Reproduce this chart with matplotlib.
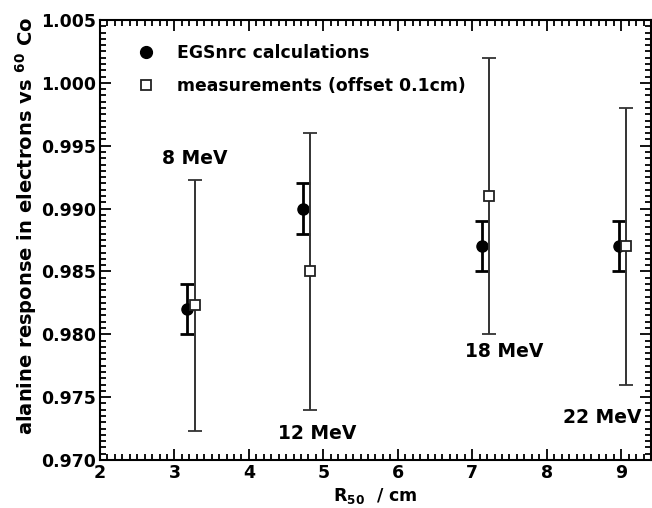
import matplotlib
matplotlib.use("Agg")
import matplotlib.pyplot as plt
from matplotlib.ticker import MultipleLocator, FormatStrFormatter
from matplotlib.lines import Line2D

plt.rcParams['font.family'] = ['DejaVu Sans']
plt.rcParams['font.weight'] = 'bold'
plt.rcParams['mathtext.fontset'] = 'custom'
plt.rcParams['mathtext.rm'] = 'DejaVu Sans:bold'
plt.rcParams['mathtext.it'] = 'DejaVu Sans:bold'
plt.rcParams['mathtext.bf'] = 'DejaVu Sans:bold'

# EGSnrc calculations
calc_x = [3.17, 4.72, 7.13, 8.97]
calc_y = [0.982, 0.990, 0.987, 0.987]
calc_err = [0.002, 0.002, 0.002, 0.002]

# measurements (offset 0.1 cm)
meas_x = [3.27, 4.82, 7.23, 9.07]
meas_y = [0.9823, 0.985, 0.991, 0.987]
meas_err = [0.010, 0.011, 0.011, 0.011]

energy_labels = ["8 MeV", "12 MeV", "18 MeV", "22 MeV"]
label_x = [3.27, 4.92, 7.43, 8.74]
label_y = [0.9940, 0.9721, 0.9786, 0.9734]

fig = plt.figure(figsize=(6.52, 5.08), dpi=100)
ax = fig.add_axes([0.1534, 0.0945, 0.8450, 0.8661])

ax.errorbar(calc_x, calc_y, yerr=calc_err, fmt='o', color='black',
            ms=8, elinewidth=2.0, capsize=5, capthick=2.0, zorder=2)
ax.errorbar(meas_x, meas_y, yerr=meas_err, fmt='s', color='#333333',
            mfc='white', mec='#222222', mew=1.3, ms=6.5, elinewidth=1.4,
            capsize=5, capthick=1.4, zorder=3)

for t, x, y in zip(energy_labels, label_x, label_y):
    ax.text(x, y, t, ha='center', va='center', fontsize=13.5, fontweight='bold')

ax.set_xlim(2, 9.4)
ax.set_ylim(0.970, 1.005)
ax.xaxis.set_major_locator(MultipleLocator(1))
ax.xaxis.set_minor_locator(MultipleLocator(0.1))
ax.yaxis.set_major_locator(MultipleLocator(0.005))
ax.yaxis.set_minor_locator(MultipleLocator(0.0005))
ax.yaxis.set_major_formatter(FormatStrFormatter('%.3f'))
ax.tick_params(which='both', direction='in', top=True, right=True, width=1.3)
ax.tick_params(which='major', length=8, labelsize=12.5, pad=3)
ax.tick_params(which='minor', length=4)
for lab in ax.get_xticklabels() + ax.get_yticklabels():
    lab.set_fontweight('bold')
for s in ax.spines.values():
    s.set_linewidth(1.5)

ax.set_xlabel(r'R$_{50}$  / cm', fontsize=12.5, fontweight='bold', labelpad=3)
fig.text(26 / 652, 1 - 226 / 508, r'alanine response in electrons vs $^{60}$ Co',
         rotation=90, ha='center', va='center', fontsize=14, fontweight='bold')

handles = [
    Line2D([], [], ls='none', marker='o', color='black', ms=8.5),
    Line2D([], [], ls='none', marker='s', mfc='white', mec='#222222', mew=1.3, ms=6.5),
]
labels = ['EGSnrc calculations', 'measurements (offset 0.1cm)']
ax.legend(handles, labels, loc='upper left', bbox_to_anchor=(0.04, 0.98),
          frameon=False, fontsize=12.4, handletextpad=1.3, labelspacing=0.85,
          handlelength=1.0)

fig.savefig('out.png', dpi=100)
